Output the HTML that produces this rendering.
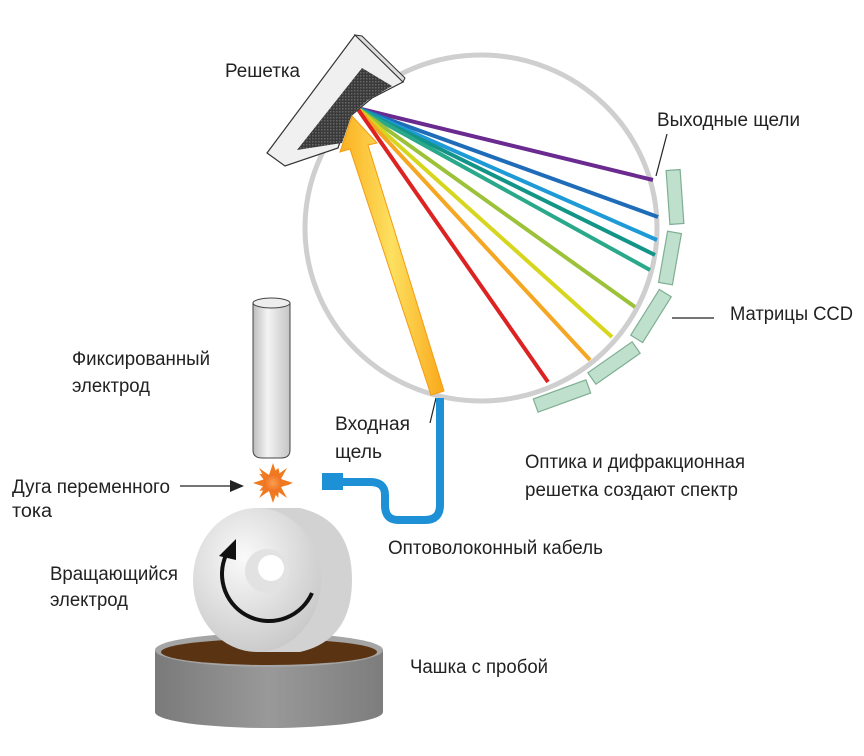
<!DOCTYPE html>
<html><head><meta charset="utf-8"><style>
html,body{margin:0;padding:0;background:#fff;}
svg{display:block;}
text{font-family:"Liberation Sans",Arial,sans-serif;font-size:19px;fill:#222;}
</style></head><body>
<svg width="864" height="756" viewBox="0 0 864 756" xmlns="http://www.w3.org/2000/svg">
<defs>
<linearGradient id="cyl" x1="0" x2="1" y1="0" y2="0">
<stop offset="0" stop-color="#bdbdbd"/><stop offset="0.4" stop-color="#f4f4f4"/><stop offset="1" stop-color="#c4c4c4"/></linearGradient>
<linearGradient id="cup" x1="0" x2="1" y1="0" y2="0">
<stop offset="0" stop-color="#7a7a7a"/><stop offset="0.5" stop-color="#999"/><stop offset="1" stop-color="#7d7d7d"/></linearGradient>
<radialGradient id="wheel" cx="0.4" cy="0.35" r="0.7">
<stop offset="0" stop-color="#fafafa"/><stop offset="1" stop-color="#c8c8c8"/></radialGradient>
<radialGradient id="spark" cx="0.5" cy="0.5" r="0.5">
<stop offset="0" stop-color="#f8a050"/><stop offset="1" stop-color="#f07020"/></radialGradient>
<linearGradient id="beam" x1="0" x2="1" y1="0" y2="0">
<stop offset="0" stop-color="#fbb020"/><stop offset="0.5" stop-color="#fde060"/><stop offset="1" stop-color="#f9a81a"/></linearGradient>
<pattern id="grid" width="3" height="3" patternUnits="userSpaceOnUse">
<rect width="3" height="3" fill="#3a3a3a"/><rect width="1.5" height="1.5" fill="#666"/></pattern>
</defs>

<ellipse cx="481" cy="228" rx="176" ry="173" fill="none" stroke="#cfcfcf" stroke-width="5"/>

<g stroke-width="4" stroke-linecap="butt">
<line x1="357" y1="108" x2="653" y2="180" stroke="#6a2a90"/>
<line x1="357" y1="108" x2="658" y2="217" stroke="#1f6db8"/>
<line x1="357" y1="108" x2="657" y2="240" stroke="#1e9ad6"/>
<line x1="357" y1="108" x2="655" y2="255" stroke="#129488"/>
<line x1="357" y1="108" x2="650" y2="270" stroke="#2aa88a"/>
<line x1="357" y1="108" x2="635" y2="307" stroke="#9cc23a"/>
<line x1="357" y1="108" x2="612" y2="337" stroke="#d6d61e"/>
<line x1="357" y1="108" x2="590" y2="360" stroke="#f5a623"/>
<line x1="357" y1="108" x2="548" y2="382" stroke="#dd2222"/>
</g>

<polygon points="431,395 444,391 368,145 377,143 352,116 340,152 350,149" fill="url(#beam)" stroke="#f39c12" stroke-width="1"/>

<polygon points="267,153 355,35 403,82 372,98 348,118 338,148 285,166" fill="#f0f0f0" stroke="#333" stroke-width="1.2"/>
<polygon points="355,35 362,36 405,78 403,82" fill="#ddd" stroke="#333" stroke-width="1"/>
<polygon points="297,150 362,68 392,86 368,100 352,114 342,143" fill="url(#grid)"/>

<g fill="#bfe0cc" stroke="#7fae93" stroke-width="1.2">
<rect x="-7" y="-27" width="14" height="54" transform="translate(675,197) rotate(-4)"/>
<rect x="-7" y="-26" width="14" height="52" transform="translate(670,258) rotate(10)"/>
<rect x="-7" y="-27" width="14" height="54" transform="translate(651,316) rotate(32)"/>
<rect x="-7" y="-27" width="14" height="54" transform="translate(614,363) rotate(55)"/>
<rect x="-7" y="-28" width="14" height="56" transform="translate(562,396) rotate(70)"/>
</g>

<g stroke="#222" stroke-width="1.2">
<line x1="667" y1="134" x2="656" y2="176"/>
<line x1="672" y1="318" x2="714" y2="318"/>
<line x1="436" y1="398" x2="430" y2="423"/>
<line x1="180" y1="486" x2="232" y2="486"/>
</g>
<polygon points="244,486 230,480 230,492" fill="#222"/>

<path d="M440 398 L440 505 Q440 520 425 520 L398 520 Q385 520 385 505 L385 495 Q385 482 370 482 L340 482" fill="none" stroke="#1e90d6" stroke-width="8"/>
<rect x="322" y="473" width="21" height="17" fill="#1e90d6"/>

<path d="M155 650 L155 712 A114 16 0 0 0 383 712 L383 650 Z" fill="url(#cup)"/>
<ellipse cx="269" cy="650" rx="114" ry="17" fill="#a5a5a5"/>
<ellipse cx="269" cy="652" rx="108" ry="13" fill="#5a3412"/>

<path d="M257 508 L300 508 Q352 520 352 580 Q352 640 300 652 L257 652 Z" fill="#d2d2d2"/>
<ellipse cx="257" cy="580" rx="64" ry="72" fill="url(#wheel)"/>
<circle cx="267" cy="571" r="22" fill="#e2e2e2"/>
<circle cx="271" cy="568" r="13" fill="#fff"/>
<path d="M312 593 A45 45 0 1 1 226 555" fill="none" stroke="#111" stroke-width="4"/>
<polygon points="236,539 219,556 236,560" fill="#111"/>

<path d="M253 303 L253 450 Q253 458 262 458 L281 458 Q290 458 290 450 L290 303 Z" fill="url(#cyl)" stroke="#444" stroke-width="1"/>
<ellipse cx="271.5" cy="303" rx="18.5" ry="5" fill="#eee" stroke="#444" stroke-width="1"/>

<g transform="translate(273,483)" fill="#f07a20">
<polygon points="0,-20 4,-8 14,-15 8,-4 20,0 8,4 14,15 4,8 0,20 -4,8 -14,15 -8,4 -20,0 -8,-4 -14,-15 -4,-8"/>
<polygon points="0,-16 6,-6 16,-4 7,2 10,12 0,7 -10,12 -7,2 -16,-4 -6,-6" transform="rotate(20)"/>
<circle r="9" fill="url(#spark)"/>
</g>

<g>
<text x="225" y="77" textLength="75" lengthAdjust="spacingAndGlyphs">Решетка</text>
<text x="657" y="126" textLength="143" lengthAdjust="spacingAndGlyphs">Выходные щели</text>
<text x="730" y="320" textLength="123" lengthAdjust="spacingAndGlyphs">Матрицы CCD</text>
<text x="72" y="365" textLength="138" lengthAdjust="spacingAndGlyphs">Фиксированный</text>
<text x="72" y="392" textLength="78" lengthAdjust="spacingAndGlyphs">электрод</text>
<text x="335" y="430" textLength="75" lengthAdjust="spacingAndGlyphs">Входная</text>
<text x="335" y="458" textLength="47" lengthAdjust="spacingAndGlyphs">щель</text>
<text x="525" y="468" textLength="220" lengthAdjust="spacingAndGlyphs">Оптика и дифракционная</text>
<text x="525" y="496" textLength="213" lengthAdjust="spacingAndGlyphs">решетка создают спектр</text>
<text x="12" y="493" textLength="158" lengthAdjust="spacingAndGlyphs">Дуга переменного</text>
<text x="12" y="517" textLength="40" lengthAdjust="spacingAndGlyphs">тока</text>
<text x="388" y="554" textLength="215" lengthAdjust="spacingAndGlyphs">Оптоволоконный кабель</text>
<text x="50" y="580" textLength="128" lengthAdjust="spacingAndGlyphs">Вращающийся</text>
<text x="50" y="606" textLength="78" lengthAdjust="spacingAndGlyphs">электрод</text>
<text x="410" y="673" textLength="138" lengthAdjust="spacingAndGlyphs">Чашка с пробой</text>
</g>
</svg>
</body></html>
